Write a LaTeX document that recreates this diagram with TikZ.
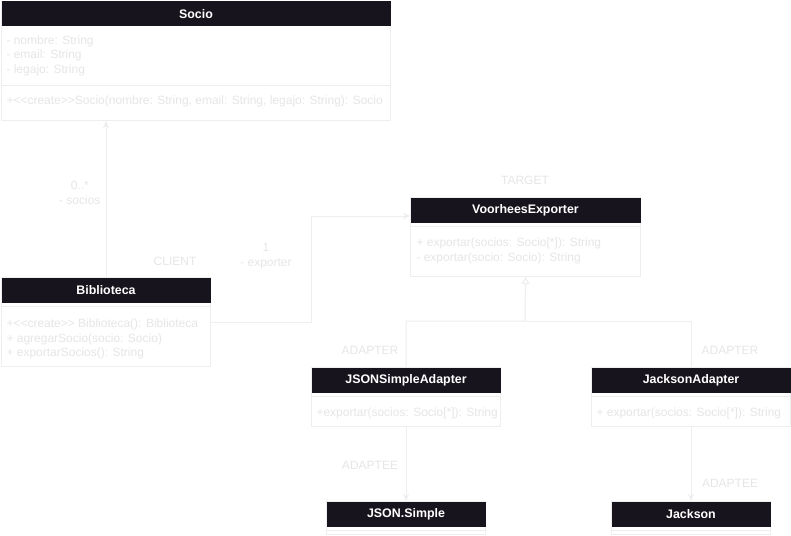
\documentclass[tikz,border=0pt]{standalone}
\usepackage{fontspec}
\setmainfont{Liberation Sans}[Ligatures=TeXOff]
\usetikzlibrary{arrows.meta}
\definecolor{hdr}{HTML}{18141D}
\definecolor{pale}{HTML}{EEEEEE}
\definecolor{paletext}{HTML}{E6E6E6}
\tikzset{
	cls/.style={draw=pale, anchor=north west, inner sep=0pt},
	head/.style={fill=hdr, text=white, font=\fontsize{12.4}{15}\selectfont\bfseries, anchor=north west, inner sep=0pt, minimum height=25},
	mbr/.style={anchor=west, text=paletext, inner sep=0pt, align=left},
	role/.style={text=paletext, inner sep=0pt, align=center},
}
\begin{document}
\begin{tikzpicture}[x=1pt, y=-1pt, font=\fontsize{12}{14.5}\selectfont, line width=1pt, line join=round, >={Stealth[length=7pt,width=6pt]}]
	\useasboundingbox[fill=white] (0,0) rectangle (791,535);
	% classes
	\node[cls, minimum width=389, minimum height=119] (socio) at (1,1) {};
	\node[head, minimum width=389] (socioH) at (socio.north west) {Socio};
	\draw[pale] (socio.west |- 0,85) -- (socio.east |- 0,85);
	\node[mbr] (socioA) at (6,55.5) {- nombre: String\\- email: String\\- legajo: String};
	\node[mbr] (socioM) at (6,101.5) {+<<create>>Socio(nombre: String, email: String, legajo: String): Socio};
	
	\node[cls, minimum width=209, minimum height=89] (bib) at (1,277) {};
	\node[head, minimum width=209] (bibH) at (bib.north west) {Biblioteca};
	\draw[pale] (bib.west |- 0,306) -- (bib.east |- 0,306);
	\node[mbr] (bibM) at (6,339) {+<<create>> Biblioteca(): Biblioteca\\+ agregarSocio(socio: Socio)\\+ exportarSocios(): String};
	
	\node[cls, minimum width=230, minimum height=79] (voor) at (410,197) {};
	\node[head, minimum width=230] (voorH) at (voor.north west) {VoorheesExporter};
	\draw[pale] (voor.west |- 0,226) -- (voor.east |- 0,226);
	\node[mbr] (voorM) at (416,251) {+ exportar(socios: Socio[*]): String\\- exportar(socio: Socio): String};
	
	\node[cls, minimum width=189, minimum height=59] (jsa) at (311,367) {};
	\node[head, minimum width=189] (jsaH) at (jsa.north west) {JSONSimpleAdapter};
	\draw[pale] (jsa.west |- 0,396) -- (jsa.east |- 0,396);
	\node[mbr] (jsaM) at (316,413.5) {+exportar(socios: Socio[*]): String};
	
	\node[cls, minimum width=199, minimum height=59] (ja) at (591,367) {};
	\node[head, minimum width=199] (jaH) at (ja.north west) {JacksonAdapter};
	\draw[pale] (ja.west |- 0,396) -- (ja.east |- 0,396);
	\node[mbr] (jaM) at (596,413.5) {+ exportar(socios: Socio[*]): String};
	
	\node[cls, minimum width=159, minimum height=33] (jsimple) at (326,501) {};
	\node[head, minimum width=159] (jsimpleH) at (jsimple.north west) {JSON.Simple};
	\draw[pale] (jsimple.west |- 0,530) -- (jsimple.east |- 0,530);
	
	\node[cls, minimum width=159, minimum height=33] (jackson) at (611,501) {};
	\node[head, minimum width=159] (jacksonH) at (jackson.north west) {Jackson};
	\draw[pale] (jackson.west |- 0,530) -- (jackson.east |- 0,530);
	
	% connectors
	\coordinate (gen) at (525,321);
	\draw[pale, ->] (bib.north) -- (bib.north |- socio.south);
	\draw[pale, ->] (bib.east) -- ++(100,0) |- ([yshift=-19pt]voor.north west);
	\draw[pale, -{Triangle[open, length=7pt, width=8pt]}] (jsa.north) |- (gen) -- (voor.south);
	\draw[pale] (ja.north) |- (gen);
	\draw[pale, ->] (jsa.south) -- (jsimple.north);
	\draw[pale, ->] (ja.south) -- (jackson.north);
	
	% roles
	\node[role, anchor=east] (nSocios) at (101,193) {0..*\\- socios};
	\node[role] (client) at (175,261) {CLIENT};
	\node[role] (nExp) at (266,256) {1\\- exporter};
	\node[role] (target) at (525,180.5) {TARGET};
	\node[role] (adp1) at (370,350.5) {ADAPTER};
	\node[role] (adp2) at (730,350.5) {ADAPTER};
	\node[role] (adt1) at (370,465.5) {ADAPTEE};
	\node[role] (adt2) at (730,483.5) {ADAPTEE};
\end{tikzpicture}
\end{document}
